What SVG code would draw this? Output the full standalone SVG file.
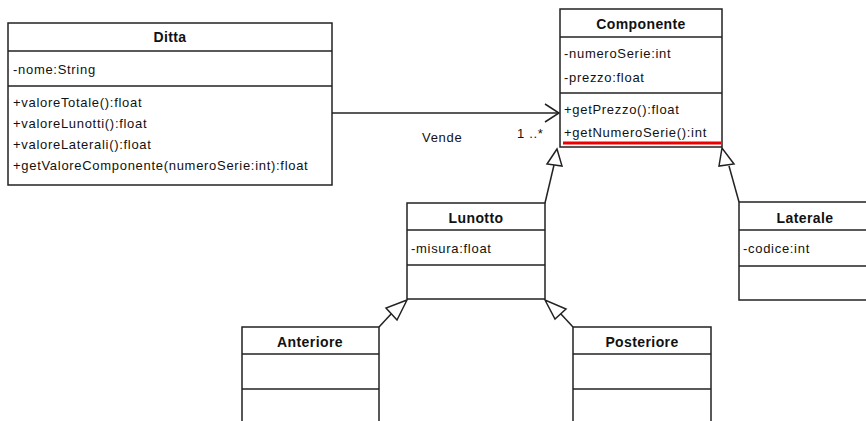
<svg xmlns="http://www.w3.org/2000/svg" width="866" height="421" viewBox="0 0 866 421">
<style>
.box{fill:#fff;stroke:#222;stroke-width:1.5}
.ln{stroke:#222;stroke-width:1.5;fill:none}
.t{font-family:"Liberation Sans",Arial,sans-serif;font-size:13px;letter-spacing:0.7px;fill:#111}
.h{font-family:"Liberation Sans",Arial,sans-serif;font-size:14px;letter-spacing:0.4px;font-weight:bold;fill:#111;text-anchor:middle}
.tri{fill:#fff;stroke:#222;stroke-width:1.5}
</style>
<rect width="866" height="421" fill="#fff"/>
<g id="connectors">
<line class="ln" x1="332" y1="113" x2="559" y2="113"/>
<polyline class="ln" points="545,104 559,113 545,122"/>
<text class="t" x="422" y="142">Vende</text>
<text class="t" x="517" y="138">1 ..*</text>
<line class="ln" x1="545" y1="203" x2="554" y2="165"/>
<polygon class="tri" points="557,149 547,164 562,166"/>
<line class="ln" x1="739" y1="202" x2="729" y2="166"/>
<polygon class="tri" points="722,148 719,166 734,164"/>
<line class="ln" x1="379" y1="327" x2="392" y2="313"/>
<polygon class="tri" points="407,300 386,308 397,320"/>
<line class="ln" x1="573" y1="327" x2="560" y2="313"/>
<polygon class="tri" points="545,300 555,319 566,309"/>
</g>
<g id="Ditta">
<rect class="box" x="8" y="23" width="324" height="162"/>
<line class="ln" x1="8" y1="51" x2="332" y2="51"/>
<line class="ln" x1="8" y1="86" x2="332" y2="86"/>
<text class="h" x="170" y="42">Ditta</text>
<text class="t" x="13" y="74">-nome:String</text>
<text class="t" x="13" y="107">+valoreTotale():float</text>
<text class="t" x="13" y="128">+valoreLunotti():float</text>
<text class="t" x="13" y="149">+valoreLaterali():float</text>
<text class="t" x="13" y="170">+getValoreComponente(numeroSerie:int):float</text>
</g>
<g id="Componente">
<rect class="box" x="560" y="9" width="162" height="138"/>
<line class="ln" x1="560" y1="37" x2="722" y2="37"/>
<line class="ln" x1="560" y1="93" x2="722" y2="93"/>
<text class="h" x="641" y="29">Componente</text>
<text class="t" x="564" y="58">-numeroSerie:int</text>
<text class="t" x="564" y="82">-prezzo:float</text>
<text class="t" x="564" y="114">+getPrezzo():float</text>
<text class="t" x="564" y="137">+getNumeroSerie():int</text>
<line x1="563" y1="143" x2="721" y2="143" stroke="#e00" stroke-width="3"/>
</g>
<g id="Lunotto">
<rect class="box" x="407" y="203" width="138" height="96"/>
<line class="ln" x1="407" y1="230" x2="545" y2="230"/>
<line class="ln" x1="407" y1="265" x2="545" y2="265"/>
<text class="h" x="476" y="223">Lunotto</text>
<text class="t" x="411" y="253">-misura:float</text>
</g>
<g id="Laterale">
<rect class="box" x="739" y="202" width="140" height="98"/>
<line class="ln" x1="739" y1="230" x2="866" y2="230"/>
<line class="ln" x1="739" y1="266" x2="866" y2="266"/>
<text class="h" x="805" y="223">Laterale</text>
<text class="t" x="743" y="253">-codice:int</text>
</g>
<g id="Anteriore">
<rect class="box" x="242" y="327" width="137" height="110"/>
<line class="ln" x1="242" y1="354" x2="379" y2="354"/>
<line class="ln" x1="242" y1="389" x2="379" y2="389"/>
<text class="h" x="310" y="347">Anteriore</text>
</g>
<g id="Posteriore">
<rect class="box" x="573" y="327" width="138" height="110"/>
<line class="ln" x1="573" y1="354" x2="711" y2="354"/>
<line class="ln" x1="573" y1="389" x2="711" y2="389"/>
<text class="h" x="642" y="347">Posteriore</text>
</g>
</svg>
